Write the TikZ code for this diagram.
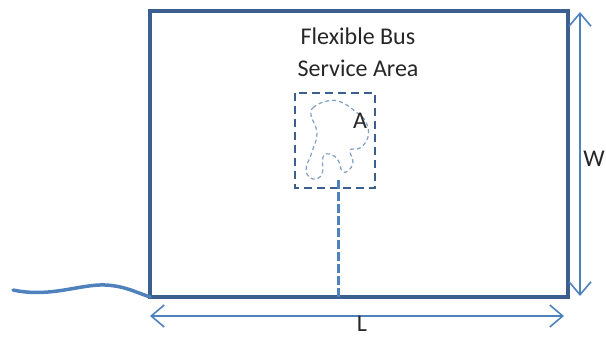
\documentclass[tikz,border=0pt]{standalone}
\usepackage{fontspec}
\setmainfont{Carlito}
\usetikzlibrary{arrows.meta}
\definecolor{darkb}{HTML}{3B5F8F}
\definecolor{lightb}{HTML}{4F81BD}
\definecolor{blobc}{HTML}{7F9FC8}
\tikzset{
  barb/.tip={Straight Barb[length=13pt,width=22pt,line width=1.6pt]},
  dimarrow/.style={lightb, line width=1.6pt, barb-barb},
  lbl/.style={font=\fontsize{24}{32}\selectfont, text=black!85, inner sep=0pt}
}
\begin{document}
\begin{tikzpicture}[x=1pt,y=-1pt]
\useasboundingbox (0,0) rectangle (606,339);
% main area
\draw[darkb, line width=4pt] (150,11) rectangle (568,297);
\coordinate (bl) at (150,297);
% wavy road
\coordinate (w0) at (13,290);
\draw[lightb, line width=3.5pt, line cap=round] (w0) .. controls (50,298) and (80,284) .. (105,285) .. controls (125,286) and (135,292) .. (bl);
% title
\node[lbl, align=center] (title) at (358,52) {Flexible Bus\\Service Area};
% dashed square
\draw[darkb, line width=2pt, dash pattern=on 8pt off 5pt] (295,93) rectangle (375,188);
\coordinate (road) at (338,297);
% blob
\draw[blobc, line width=1.2pt, dash pattern=on 4pt off 3pt] plot[smooth cycle, tension=0.7] coordinates {
 (327,101) (314,107) (311,115) (317,133) (312,152) (306,170) (313,179) (322,174) (323,157) (330,154) (338,160) (342,171) (348,171) (353,162) (350,150) (360,148) (368,137) (366,122) (356,112) (341,102)};
\node[lbl] (A) at (360,121) {A};
% vertical connector
\draw[lightb, line width=3pt, dash pattern=on 9pt off 3pt] (338,180) -- (road);
% dimension arrows
\coordinate (wt) at (580,12);
\coordinate (wb) at (580,296);
\draw[dimarrow] (wt) -- (wb);
\node[lbl] (W) at (594,159) {W};
\coordinate (ll) at (150,316);
\coordinate (lr) at (564,316);
\draw[dimarrow] (ll) -- (lr);
\node[lbl] (L) at (362,324) {L};
\end{tikzpicture}
\end{document}
